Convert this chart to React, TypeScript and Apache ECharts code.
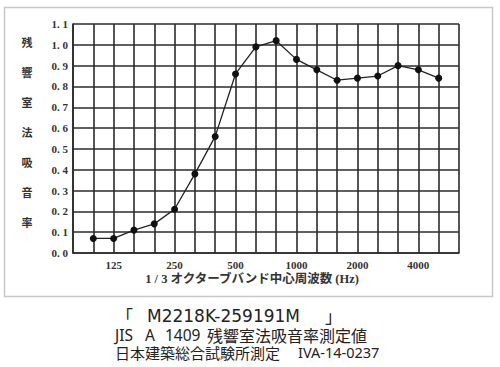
import React, { useEffect, useRef } from "react";
import * as echarts from "echarts";

// 1/3 octave band centre frequencies (Hz), with blank edges for the grid frame
const frequencies = ["", "100", "125", "160", "200", "250", "315", "400", "500", "630", "800", "1000", "1250", "1600", "2000", "2500", "3150", "4000", "5000", ""];
// Reverberation-room absorption coefficient
const absorption = [null, 0.07, 0.07, 0.11, 0.14, 0.21, 0.38, 0.56, 0.86, 0.99, 1.02, 0.93, 0.88, 0.83, 0.84, 0.85, 0.9, 0.88, 0.84, null];
const shownTickLabels = ["125", "250", "500", "1000", "2000", "4000"];
const yTitleChars = ["残", "響", "室", "法", "吸", "音", "率"];
const xAxisTitle = "1 / 3 オクターブバンド中心周波数 (Hz)";
// caption pieces: line 1, line 2, line 3
const caption1 = ["「", "M2218K-259191M", "」"];
const caption2 = ["JIS", "A", "1409", "残響室法吸音率測定値"];
const caption3 = ["日本建築総合試験所測定", "IVA-14-0237"];

const SERIF = "'Liberation Serif', 'DejaVu Serif', 'Noto Sans CJK JP', serif";
const CJK = "'Noto Sans CJK JP', sans-serif";
const LATIN = "'Noto Sans', 'Noto Sans CJK JP', sans-serif";
const GRID_COLOR = "#2b2b2b";

function txt(text: string, x: number, y: number, fontFamily: string, fontSize: number) {
  return {
    type: "text",
    x,
    y,
    style: {
      text,
      fontFamily,
      fontSize,
      lineHeight: fontSize,
      fill: "#222",
      align: "left",
      verticalAlign: "middle",
    },
  };
}

export default function App() {
  const ref = useRef<HTMLDivElement>(null);

  useEffect(() => {
    if (!ref.current) return;
    const chart = echarts.init(ref.current, undefined, { renderer: "svg" });
    chart.setOption({
      animation: false,
      backgroundColor: "#ffffff",
      grid: { left: 73, top: 24, width: 386, height: 229, containLabel: false },
      xAxis: {
        type: "category",
        boundaryGap: false,
        data: frequencies,
        axisLine: { show: true, lineStyle: { color: GRID_COLOR, width: 1.6 } },
        axisTick: { show: false },
        axisLabel: {
          interval: (_i: number, v: string) => shownTickLabels.includes(v),
          color: "#333",
          fontFamily: SERIF,
          fontSize: 11,
          fontWeight: "bold",
          margin: 6,
        },
        splitLine: { show: true, interval: 0, lineStyle: { color: GRID_COLOR, width: 1.6 } },
      },
      yAxis: {
        type: "value",
        min: 0,
        max: 1.1,
        interval: 0.1,
        axisLine: { show: true, lineStyle: { color: GRID_COLOR, width: 1.6 } },
        axisTick: { show: false },
        axisLabel: {
          formatter: (v: number) => v.toFixed(1).replace(".", ". "),
          color: "#333",
          fontFamily: SERIF,
          fontSize: 11,
          fontWeight: "bold",
          margin: 5,
        },
        splitLine: { show: true, lineStyle: { color: GRID_COLOR, width: 1.6 } },
      },
      series: [
        {
          type: "line",
          data: absorption,
          connectNulls: false,
          symbol: "circle",
          symbolSize: 7,
          itemStyle: { color: "#111" },
          lineStyle: { color: "#222", width: 1.3 },
        },
      ],
      graphic: [
        {
          type: "rect",
          shape: { x: 4.5, y: 7.5, width: 488, height: 289 },
          style: { fill: "none", stroke: "#c8c8c8", lineWidth: 1.5 },
          silent: true,
        },
        {
          type: "text",
          x: 27,
          y: 132,
          style: {
            text: yTitleChars.join("\n"),
            fontFamily: CJK,
            fontSize: 11,
            fontWeight: "bold",
            lineHeight: 30,
            fill: "#333",
            align: "center",
            verticalAlign: "middle",
          },
        },
        {
          type: "text",
          x: 252,
          y: 279,
          style: {
            text: xAxisTitle,
            fontFamily: SERIF,
            fontSize: 12.5,
            fontWeight: "bold",
            fill: "#333",
            align: "center",
            verticalAlign: "middle",
          },
        },
        txt(caption1[0], 116, 315.5, CJK, 17),
        txt(caption1[1], 147, 315.5, "'DejaVu Sans', sans-serif", 17),
        txt(caption1[2], 325, 315.5, CJK, 17),
        txt(caption2[0], 115, 334.5, LATIN, 15.5),
        txt(caption2[1], 145, 334.5, LATIN, 15.5),
        txt(caption2[2], 165, 334.5, LATIN, 15.5),
        txt(caption2[3], 207, 334.5, CJK, 16),
        txt(caption3[0], 115, 352, CJK, 15),
        txt(caption3[1], 298, 352, LATIN, 14.5),
      ],
    });
    return () => chart.dispose();
  }, []);

  return (
    <div style={{ position: "absolute", left: 0, top: 0, width: 500, height: 367 }}>
      <div ref={ref} style={{ width: 500, height: 367 }} />
    </div>
  );
}
